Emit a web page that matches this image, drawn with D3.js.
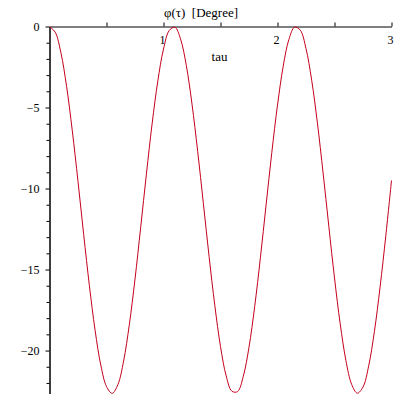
<!DOCTYPE html>
<html>
<head>
<meta charset="utf-8">
<script src="https://cdn.jsdelivr.net/npm/d3@7"></script>
<style>
  body { margin: 0; background: #fff; }
  text { font-family: "Liberation Serif", "Times New Roman", serif; }
</style>
</head>
<body>
<svg id="svg1"></svg>
<script>
const width = 400;
const height = 400;

// tau sample points and phi(tau) in degrees
const tau = [0, 0.05, 0.1, 0.15, 0.2, 0.25, 0.3, 0.35, 0.4, 0.45,
  0.5, 0.55, 0.6, 0.65, 0.7, 0.75, 0.8, 0.85, 0.9, 0.95,
  1, 1.05, 1.1, 1.15, 1.2, 1.25, 1.3, 1.35, 1.4, 1.45,
  1.5, 1.55, 1.6, 1.65, 1.7, 1.75, 1.8, 1.85, 1.9, 1.95,
  2, 2.05, 2.1, 2.15, 2.2, 2.25, 2.3, 2.35, 2.4, 2.45,
  2.5, 2.55, 2.6, 2.65, 2.7, 2.75, 2.8, 2.85, 2.9, 2.95, 3];
const phi = [-0.01, -0.35, -1.62, -3.70, -6.44, -9.56, -12.85, -16.00, -18.75, -20.90,
  -22.22, -22.64, -22.10, -20.65, -18.41, -15.59, -12.39, -9.11, -6.01, -3.37,
  -1.39, -0.25, -0.04, -0.78, -2.40, -4.79, -7.71, -10.94, -14.20, -17.21,
  -19.75, -21.57, -22.51, -22.53, -21.59, -19.79, -17.28, -14.27, -11.01, -7.78,
  -4.85, -2.45, -0.80, -0.04, -0.23, -1.36, -3.32, -5.95, -9.04, -12.32,
  -15.52, -18.35, -20.61, -22.08, -22.63, -22.25, -20.94, -18.82, -16.07, -12.92, -9.50];

const xTicks = [0.5, 1, 1.5, 2, 2.5, 3];
const yMajorTicks = [0, -5, -10, -15, -20];
const yMinorTicks = [-1, -2, -3, -4, -6, -7, -8, -9, -11, -12, -13, -14, -16, -17, -18, -19, -21, -22];

const svg = d3.select("#svg1")
  .attr("width", width)
  .attr("height", height);

svg.append("rect").attr("width", width).attr("height", height).attr("fill", "#fff");

const x = d3.scaleLinear().domain([0, 3]).range([49.5, 391.5]);
const y = d3.scaleLinear().domain([-22.65, 0]).range([393.5, 26.5]);

// x axis along phi = 0, ticks pointing up, labels below
const xAxis = svg.append("g")
  .attr("transform", "translate(0," + y(0) + ")")
  .call(d3.axisBottom(x)
    .tickValues(xTicks)
    .tickSizeInner(-4)
    .tickSizeOuter(0)
    .tickPadding(9)
    .tickFormat((d) => Number.isInteger(d) ? d : ""));
xAxis.selectAll("text")
  .attr("text-anchor", "end")
  .attr("x", 1.5)
  .attr("font-size", "12px")
  .attr("font-family", "Liberation Serif, serif")
  .attr("fill", "#000");

// y axis, minor ticks first
svg.append("g")
  .attr("transform", "translate(" + x(0) + ",0)")
  .call(d3.axisLeft(y).tickValues(yMinorTicks).tickSizeInner(3).tickSizeOuter(0).tickFormat(""));

const yAxis = svg.append("g")
  .attr("transform", "translate(" + x(0) + ",0)")
  .call(d3.axisLeft(y).tickValues(yMajorTicks).tickSizeInner(4).tickSizeOuter(0).tickPadding(6));
yAxis.selectAll("text")
  .attr("font-size", "12px")
  .attr("font-family", "Liberation Serif, serif")
  .attr("fill", "#000");

svg.selectAll(".domain, .tick line").attr("stroke", "#000");

// the curve
const line = d3.line()
  .x((d, i) => x(tau[i]))
  .y((d) => y(d))
  .curve(d3.curveCatmullRom);

svg.append("path")
  .datum(phi)
  .attr("d", line)
  .attr("fill", "none")
  .attr("stroke", "#c4001c")
  .attr("stroke-width", 1);

// titles
svg.append("text")
  .attr("x", 201)
  .attr("y", 17)
  .attr("text-anchor", "middle")
  .attr("font-size", "13px")
  .style("white-space", "pre")
  .text("φ(τ)  [Degree]");

svg.append("text")
  .attr("x", 219.5)
  .attr("y", 61)
  .attr("text-anchor", "middle")
  .attr("font-size", "13px")
  .text("tau");
</script>
</body>
</html>
